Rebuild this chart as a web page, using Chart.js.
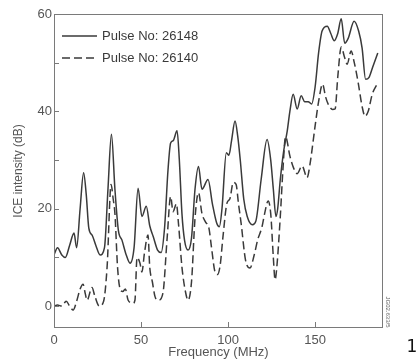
<!DOCTYPE html>
<html>
<head>
<meta charset="utf-8">
<script src="https://cdn.jsdelivr.net/npm/chart.js@4/dist/chart.umd.min.js"></script>
<style>
  html, body { margin: 0; padding: 0; background: #fff; }
  #wrap { width: 416px; height: 360px; position: relative; }
</style>
</head>
<body>
<div id="wrap"><canvas id="iceChart"></canvas></div>
<script>
// Pulse No: 26148 (solid)
const freqA = [0, 2, 4.5, 6.5, 9, 11.5, 13, 15, 17, 18.5, 20, 22, 24, 26.5, 29, 31, 33, 35, 37, 39, 41.5, 43.7, 46, 48.3, 50.5, 53, 55, 57, 59.5, 61.5, 63.5, 65.5, 67, 68.5, 70.7, 72, 73.5, 75, 77, 79, 81, 83, 85, 88.5, 91, 93.5, 95, 96.5, 99, 100.5, 102, 104, 105.5, 107, 109, 111, 114, 116, 119, 122.4, 124.5, 126, 127.5, 128.5, 130, 132, 134, 135.5, 137.4, 139.7, 142, 144, 146, 148, 150, 152, 154, 157, 159, 161, 163, 165, 167, 169, 172.4, 175, 177, 179, 181, 183, 186];
const pulseA = [10.5, 12, 10.5, 10, 12.5, 15, 12, 20, 27.4, 23, 16, 14.5, 12.5, 10.5, 12, 24, 35.3, 24, 15.5, 13.6, 10.5, 8.8, 12, 24.2, 18.4, 20.5, 16.5, 14.3, 11.5, 11, 16, 28, 33.5, 34, 36, 30, 19, 13.5, 11.5, 14, 24, 28.7, 24, 26, 21, 17, 16.3, 20, 31.5, 31, 34, 38, 35, 30, 22, 18.4, 16.7, 17.5, 26, 34.2, 30, 24, 18.4, 20, 26, 32, 36, 40, 43.5, 40.5, 43.2, 42, 42, 41.5, 45, 52, 56.5, 57.5, 56, 54.5, 56, 59, 54, 55, 58.5, 56.5, 53, 46.6, 47, 49, 52];

// Pulse No: 26140 (dashed)
const freqB = [0, 2, 4.5, 7, 9, 11, 13, 15, 16.7, 18, 19, 21.8, 23.5, 26, 28.5, 30.5, 32.8, 34, 35, 36.5, 38, 39.5, 41, 42.6, 45.4, 46.5, 47.7, 49.4, 50.5, 52, 54, 55, 56.5, 58, 60, 62.6, 65, 67, 68.4, 70.3, 71.5, 73.5, 75.5, 77, 79, 81, 83, 85, 87, 89, 90.5, 92.5, 94, 95.5, 97, 99.4, 101, 103, 104.6, 106, 107.5, 110, 112.6, 115, 117, 119.5, 121, 123, 124.5, 126, 127, 128, 130, 131.5, 133, 135.6, 137.5, 139.7, 142.5, 145.4, 147, 150, 152, 154.3, 156, 157.5, 160, 161.5, 163, 165, 167, 168.4, 170.7, 172.5, 174.7, 177, 178.7, 180.5, 182.8, 185.6];
const pulseB = [0, 0.2, 0, 1, 0, -0.8, 1, 3.5, 4.5, 2.5, 1.2, 3.8, 2, 0, 1, 8, 25, 22, 19, 8, 3.5, 3, 3.5, 1.2, 0.6, 1.2, 10, 8.8, 7, 11, 14.6, 8, 5, 2, 1.2, 2.7, 14, 22.5, 19.4, 21, 17, 8, 3, 1.2, 5, 18, 23.3, 19, 17.3, 16, 12, 7, 6.5, 8.5, 14, 21.2, 22, 25.4, 25, 21, 17, 9.5, 7.8, 10.5, 13.6, 16.3, 19, 21.6, 19, 10, 5.4, 8, 18.4, 28, 34.8, 30.7, 28.5, 27.2, 28.8, 26.4, 29, 37, 42, 45.6, 43, 41.5, 40.4, 40.5, 47, 53.2, 51, 49.7, 52.4, 50, 46, 41, 39, 40, 43.5, 45.6];

const seriesLabels = ['Pulse No: 26148', 'Pulse No: 26140'];
const xTicks = [0, 50, 100, 150];
const yTicks = [0, 20, 40, 60];

const INK = '#3a3a3a';
const FONT = 'Liberation Sans, Arial, sans-serif';

function toPoints(xs, ys) {
    return xs.map((x, i) => ({ x: x, y: ys[i] }));
}

// frame, inward ticks, inset legend and the scan's side marks
const decorPlugin = {
    id: 'decor',
    afterDraw(chart) {
        const ctx = chart.ctx;
        const area = chart.chartArea;
        const xs = chart.scales.x;
        const ys = chart.scales.y;
        ctx.save();
        ctx.strokeStyle = '#7a7a7a';
        ctx.lineWidth = 1;
        ctx.strokeRect(area.left + 0.5, area.top + 0.5, area.right - area.left - 1, area.bottom - area.top - 1);

        ctx.beginPath();
        ys.ticks.forEach(t => {
            if (t.value % 10 !== 0) return;
            const py = Math.round(ys.getPixelForValue(t.value)) + 0.5;
            ctx.moveTo(area.left, py);
            ctx.lineTo(area.left + 5, py);
        });
        xTicks.forEach(v => {
            const px = Math.round(xs.getPixelForValue(v)) + 0.5;
            ctx.moveTo(px, area.bottom);
            ctx.lineTo(px, area.bottom - 6);
        });
        ctx.stroke();

        // legend
        ctx.font = '13px ' + FONT;
        ctx.textBaseline = 'middle';
        ctx.fillStyle = '#3a3a3a';
        chart.data.datasets.forEach((ds, i) => {
            const y = 36 + i * 22;
            ctx.beginPath();
            ctx.strokeStyle = ds.borderColor;
            ctx.lineWidth = ds.borderWidth;
            ctx.setLineDash(ds.borderDash || []);
            ctx.moveTo(62, y);
            ctx.lineTo(97, y);
            ctx.stroke();
            ctx.setLineDash([]);
            ctx.fillText(ds.label, 102, y);
        });

        // figure code along the right edge
        ctx.save();
        ctx.translate(388, 312);
        ctx.rotate(Math.PI / 2);
        ctx.font = '6px ' + FONT;
        ctx.textAlign = 'center';
        ctx.fillStyle = '#666';
        ctx.fillText('JG02.633/5', 0, 0);
        ctx.restore();

        ctx.font = '17px DejaVu Sans, sans-serif';
        ctx.fillStyle = '#111';
        ctx.textAlign = 'center';
        ctx.fillText('1', 412, 348);
        ctx.restore();
    }
};

new Chart(document.getElementById('iceChart'), {
    type: 'line',
    data: {
        datasets: [{
            label: seriesLabels[0],
            data: toPoints(freqA, pulseA),
            borderColor: INK,
            borderWidth: 1.5,
            pointRadius: 0,
            cubicInterpolationMode: 'monotone',
            fill: false
        }, {
            label: seriesLabels[1],
            data: toPoints(freqB, pulseB),
            borderColor: INK,
            borderWidth: 1.5,
            borderDash: [8, 4],
            pointRadius: 0,
            cubicInterpolationMode: 'monotone',
            fill: false
        }]
    },
    options: {
        responsive: true,
        maintainAspectRatio: false,
        animation: false,
        layout: { padding: { left: 0, right: 33, top: 14, bottom: 0 } },
        plugins: {
            legend: { display: false },
            tooltip: { enabled: false }
        },
        scales: {
            x: {
                type: 'linear',
                min: 0,
                max: 189,
                border: { display: false },
                grid: { display: false, drawTicks: false },
                afterBuildTicks: scale => { scale.ticks = xTicks.map(v => ({ value: v })); },
                afterFit: scale => { scale.height = 32; },
                ticks: {
                    padding: 5,
                    maxRotation: 0,
                    color: '#555',
                    font: { family: FONT, size: 13 }
                },
                title: {
                    display: true,
                    text: 'Frequency (MHz)',
                    color: '#555',
                    padding: { top: 0, bottom: 0 },
                    font: { family: FONT, size: 13 }
                }
            },
            y: {
                min: -4.5,
                max: 60,
                border: { display: false },
                grid: { display: false, drawTicks: false },
                afterFit: scale => { scale.width = 54; },
                ticks: {
                    stepSize: 10,
                    padding: 2,
                    color: '#555',
                    font: { family: FONT, size: 13 },
                    callback: v => (yTicks.includes(v) ? String(v) : '')
                },
                title: {
                    display: true,
                    text: 'ICE intensity (dB)',
                    color: '#555',
                    padding: { top: 11, bottom: 0 },
                    font: { family: FONT, size: 12 }
                }
            }
        }
    },
    plugins: [decorPlugin]
});
</script>
</body>
</html>
